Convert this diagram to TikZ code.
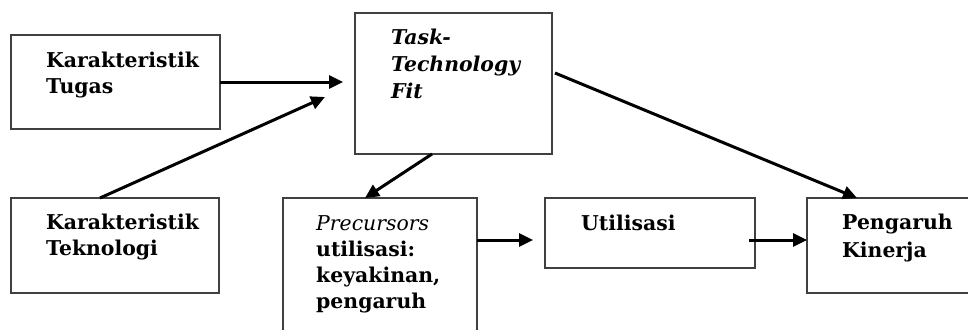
\documentclass[tikz,border=0pt]{standalone}
\usepackage{fontspec}
\setmainfont{DejaVu Serif}
\usetikzlibrary{arrows.meta,calc}
\begin{document}
\begin{tikzpicture}[x=1pt,y=-1pt,
  box/.style={draw=black!75,line width=1.5pt,inner sep=0pt,outer sep=0pt,anchor=north west},
  label/.style={anchor=base west,align=left,inner sep=0pt,font=\bfseries\fontsize{20.4}{26}\selectfont},
  arr/.style={-{Triangle[length=14pt,width=13pt]},line width=3pt,black}]
\path[use as bounding box,clip] (0,0) rectangle (968,329);

% boxes
\node[box,minimum width=209pt,minimum height=94pt] (tugas) at (11,35) {};
\node[box,minimum width=197pt,minimum height=141pt] (ttf) at (355,13) {};
\node[box,minimum width=208pt,minimum height=95pt] (tek) at (11,198) {};
\node[box,minimum width=194pt,minimum height=160pt] (pre) at (283,198) {};
\node[box,minimum width=210pt,minimum height=70pt] (util) at (545,198) {};
\node[box,minimum width=200pt,minimum height=95pt] (kin) at (807,198) {};

% labels (anchored on the baseline of their last line)
\node[label] (tugasT) at (46,93) {Karakteristik\\Tugas};
\node[label,font=\bfseries\itshape\fontsize{20.4}{27}\selectfont] (ttfT) at (391,98) {Task-\\Technology\\Fit};
\node[label,font=\bfseries\fontsize{20.4}{25.5}\selectfont] (tekT) at (46,255) {Karakteristik\\Teknologi};
\node[label] (preT) at (316,308) {{\mdseries\itshape Precursors}\\utilisasi:\\keyakinan,\\pengaruh};
\node[label] (utilT) at (581,230) {Utilisasi};
\node[label,font=\bfseries\fontsize{20.4}{28}\selectfont] (kinT) at (842,257) {Pengaruh\\Kinerja};

% connectors
\draw[arr] (tugas.east) -- ($(ttf.west |- tugas.east)+(-12,0)$);
\draw[arr] ($(tek.north west)+(89,0)$) -- ($(ttf.north west)+(-30,84)$);
\draw[arr] ($(ttf.south west)+(77,0)$) -- ($(pre.north west)+(82,0)$);
\draw[arr] ($(pre.north east)+(0,42)$) -- ($(util.north west)+(-12,42)$);
\draw[arr] ($(util.north east)+(-6,42)$) -- ($(kin.north west)+(0,42)$);
\draw[arr] ($(ttf.north east)+(3,60)$) -- ($(kin.north west)+(50,0)$);
\end{tikzpicture}
\end{document}
